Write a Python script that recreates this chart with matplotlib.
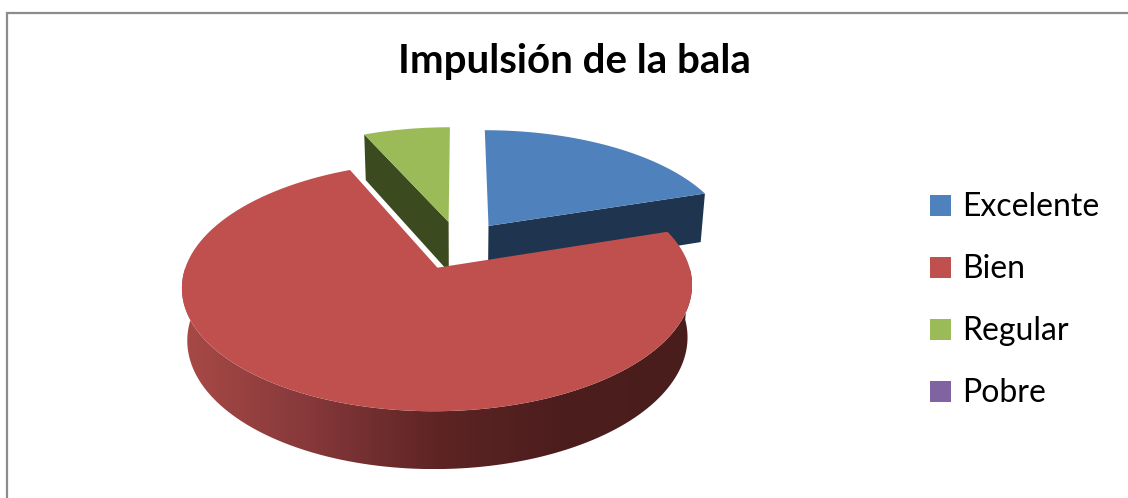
import numpy as np
import matplotlib
matplotlib.use("Agg")
import matplotlib.pyplot as plt
from matplotlib.patches import Polygon, Rectangle
from matplotlib.colors import LinearSegmentedColormap

categories = ["Excelente", "Bien", "Regular", "Pobre"]
values = [3, 11, 1, 0]
top_colors = ["#4F81BD", "#C0504D", "#9BBB59", "#8064A2"]
wall_colors = ["#1F344F", "#4A1D1D", "#3C4A20", "#33284A"]
title = "Impulsión de la bala"

# 3D pie layout (pixel space)
CX, CY = 459, 245
R = 245
ELEV = np.radians(28)
DIST = 6.0
THICK = 0.24
EXPLODE = 0.21

plt.rcParams["font.family"] = ["Lato", "DejaVu Sans"]

fig = plt.figure(figsize=(11.28, 4.98), dpi=100)
ax = fig.add_axes([0, 0, 1, 1])
ax.set_xlim(0, 1128)
ax.set_ylim(498, 0)
ax.axis("off")


def proj(x, y, z):
    depth = y * np.cos(ELEV) - z * np.sin(ELEV)
    p = DIST / (DIST + depth)
    return CX + R * x * p, CY - R * (y * np.sin(ELEV) + z * np.cos(ELEV)) * p


def arc(t0, t1, dx, dy, z, n=120):
    t = np.radians(np.linspace(t0, t1, n))
    px, py = proj(dx + np.cos(t), dy + np.sin(t), z)
    return np.column_stack([px, py])


total = sum(values)
slices = []
start = 90.0
for i, v in enumerate(values):
    sweep = 360.0 * v / total
    t1, t0 = start, start - sweep
    start = t0
    if v == 0:
        continue
    mid = np.radians((t0 + t1) / 2)
    dx, dy = EXPLODE * np.cos(mid), EXPLODE * np.sin(mid)
    slices.append((i, t0, t1, dx, dy))

# draw back slices first, the big front slice last
slices.sort(key=lambda s: s[4], reverse=True)

wall_cmap = LinearSegmentedColormap.from_list(
    "wall", ["#A84A46", "#86383A", "#5E2424", "#4C1D1D", "#4A1D1D"])

for i, t0, t1, dx, dy in slices:
    apex_top = proj(dx, dy, 0)
    apex_bot = proj(dx, dy, -THICK)
    # radial walls facing the viewer
    for t, visible in ((t0, np.cos(np.radians(t0)) > 1e-6),
                       (t1, np.cos(np.radians(t1)) < -1e-6)):
        if not visible:
            continue
        a = np.radians(t)
        et = proj(dx + np.cos(a), dy + np.sin(a), 0)
        eb = proj(dx + np.cos(a), dy + np.sin(a), -THICK)
        ax.add_patch(Polygon([apex_top, et, eb, apex_bot], closed=True,
                             facecolor=wall_colors[i], edgecolor="none"))
    # outer wall on the front half
    for k in (-1, 0, 1):
        lo = max(t0, 180 + 360 * k)
        hi = min(t1, 360 + 360 * k)
        if hi <= lo:
            continue
        top = arc(lo, hi, dx, dy, 0)
        bot = arc(hi, lo, dx, dy, -THICK)
        pts = np.vstack([top, bot])
        poly = Polygon(pts, closed=True, facecolor="none", edgecolor="none")
        ax.add_patch(poly)
        grad = np.linspace(0, 1, 256).reshape(1, -1)
        im = ax.imshow(grad, cmap=wall_cmap, aspect="auto",
                       extent=[pts[:, 0].min(), pts[:, 0].max(),
                               pts[:, 1].max(), pts[:, 1].min()])
        im.set_clip_path(poly)
    # top face
    top_pts = np.vstack([[apex_top], arc(t0, t1, dx, dy, 0)])
    ax.add_patch(Polygon(top_pts, closed=True, facecolor=top_colors[i],
                         edgecolor="none"))

ax.set_xlim(0, 1128)
ax.set_ylim(498, 0)

ax.text(574, 73, title, ha="center", va="baseline", fontsize=29,
        fontweight="bold", color="black")

# legend
leg_y = [205.5, 267.5, 329, 391]
for name, col, y in zip(categories, top_colors, leg_y):
    ax.add_patch(Rectangle((930, y - 10.5), 21, 21, facecolor=col,
                           edgecolor="none"))
    ax.text(962, y + 10.5, name, ha="left", va="baseline", fontsize=23,
            color="black")

# chart frame
fig.add_artist(Rectangle((7 / 1128, -0.1), 1.2, 1.1 - 13 / 498,
                         transform=fig.transFigure, fill=False,
                         edgecolor="#8C8C8C", linewidth=1.6))

fig.savefig("out.png", dpi=100)
